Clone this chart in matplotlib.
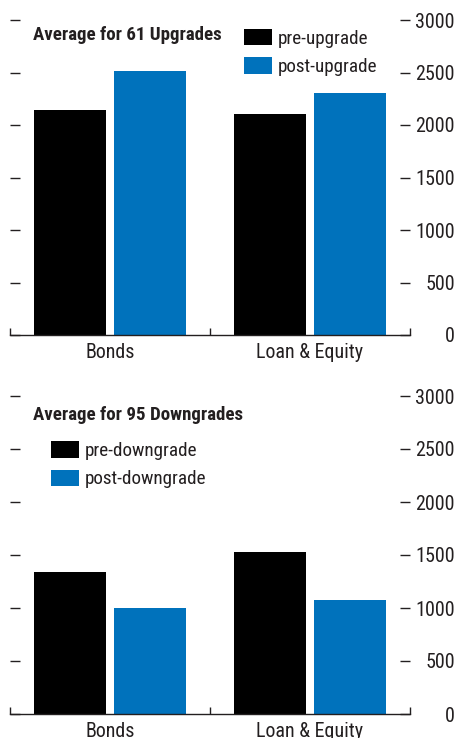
import matplotlib
matplotlib.use("Agg")
import numpy as np
from matplotlib import pyplot as plt
from matplotlib import font_manager

# 优先用窄体字体，没有就用 Roboto
installed = {f.name for f in font_manager.fontManager.ttflist}
narrow = [n for n in ['Roboto Condensed', 'Liberation Sans Narrow', 'Arial Narrow',
                      'Nimbus Sans Narrow', 'Open Sans Condensed'] if n in installed]
FONT = narrow[0] if narrow else 'Roboto'
plt.rcParams['font.family'] = [FONT, 'DejaVu Sans']
scale = 1.15 if narrow else 1.0

# 数据
categories = ['Bonds', 'Loan & Equity']
pre_upgrade = [2145, 2105]
post_upgrade = [2515, 2305]
pre_downgrade = [1340, 1530]
post_downgrade = [1000, 1075]
yticks = [0, 500, 1000, 1500, 2000, 2500, 3000]

BLACK = '#000000'
BLUE = '#0072bc'
TEXT = '#231f20'

fig = plt.figure(figsize=(4.56, 7.38), dpi=100)
ax1 = fig.add_axes([10 / 456, 403 / 738, 400 / 456, 315 / 738])
ax2 = fig.add_axes([10 / 456, 24 / 738, 400 / 456, 318 / 738])


def draw_panel(ax, pre, post, title, labels, legend_xy):
    x = np.arange(len(categories))
    ax.bar(x - 0.2, pre, width=0.36, color=BLACK, label=labels[0])
    ax.bar(x + 0.2, post, width=0.36, color=BLUE, label=labels[1])
    ax.set_xlim(-0.5, 1.5)
    ax.set_ylim(0, 3000)

    # 只保留底边
    for side in ['left', 'right', 'top']:
        ax.spines[side].set_visible(False)
    ax.spines['bottom'].set_color(TEXT)
    ax.spines['bottom'].set_linewidth(1)

    ax.set_xticks(x)
    ax.set_xticklabels(categories, fontsize=12.5 * scale, color=TEXT)
    ax.tick_params(axis='x', which='major', length=0, pad=5.5)
    ax.set_xticks([-0.5, 0.5, 1.5], minor=True)
    ax.tick_params(axis='x', which='minor', direction='in', length=5,
                   width=1, color=TEXT)

    ax.set_yticks(yticks)
    ax.tick_params(axis='y', direction='in', length=7.2, width=1, color=TEXT,
                   left=True, right=True, labelleft=False, labelright=True,
                   labelsize=12.5 * scale, labelcolor=TEXT, pad=32.4)
    for lab in ax.get_yticklabels():
        lab.set_horizontalalignment('right')

    ax.text(0.0575, title[1], title[0], transform=ax.transAxes, ha='left',
            va='top', fontsize=11.8 * scale, fontweight='bold', color=TEXT)

    ax.legend(loc='upper left', bbox_to_anchor=legend_xy, frameon=False,
              prop={'size': 12 * scale}, handlelength=1.45, handleheight=0.95,
              handletextpad=0.3, labelspacing=0.5, borderpad=0,
              borderaxespad=0, labelcolor=TEXT)


draw_panel(ax1, pre_upgrade, post_upgrade, ('Average for 61 Upgrades', 0.982),
           ['pre-upgrade', 'post-upgrade'], (0.585, 0.972))
draw_panel(ax2, pre_downgrade, post_downgrade,
           ('Average for 95 Downgrades', 0.967),
           ['pre-downgrade', 'post-downgrade'], (0.1025, 0.858))

fig.savefig('out.png', dpi=100)
